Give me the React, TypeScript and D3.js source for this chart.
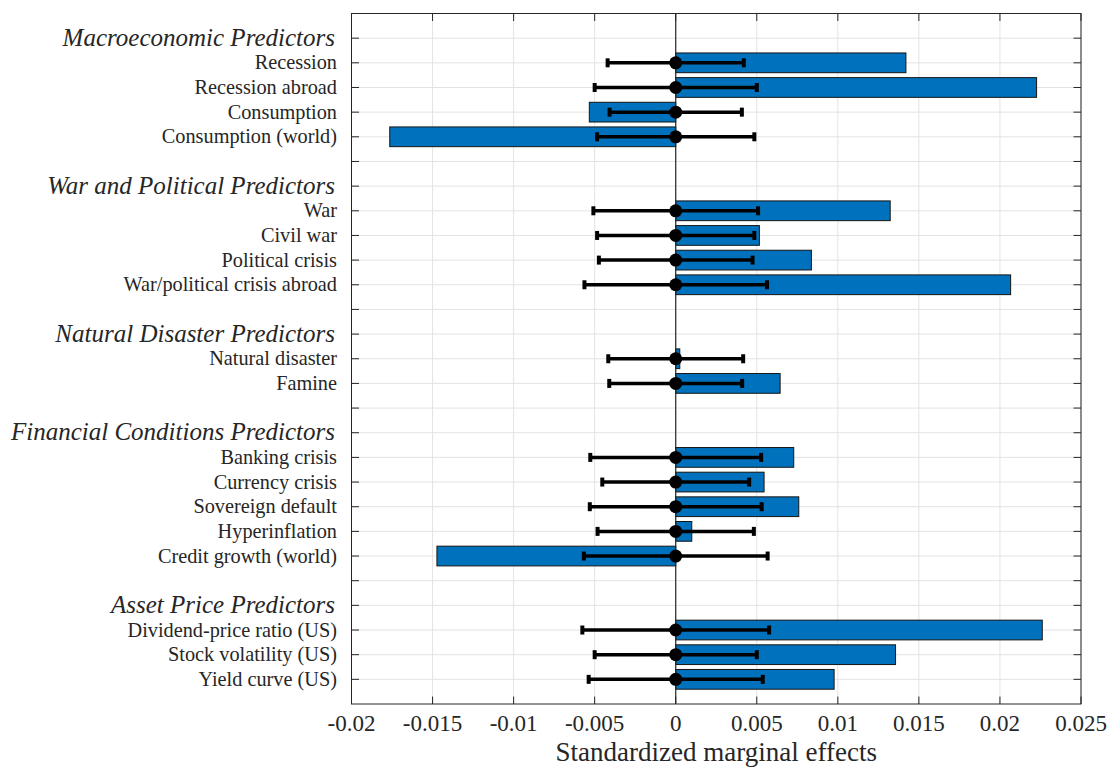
import React from "react";
import * as d3 from "d3";

// Predictor groups, in display order, with the number of predictors in each
const groupNames = [
  "Macroeconomic Predictors",
  "War and Political Predictors",
  "Natural Disaster Predictors",
  "Financial Conditions Predictors",
  "Asset Price Predictors",
];
const groupSizes = [4, 4, 2, 5, 3];

const predictors = [
  "Recession",
  "Recession abroad",
  "Consumption",
  "Consumption (world)",
  "War",
  "Civil war",
  "Political crisis",
  "War/political crisis abroad",
  "Natural disaster",
  "Famine",
  "Banking crisis",
  "Currency crisis",
  "Sovereign default",
  "Hyperinflation",
  "Credit growth (world)",
  "Dividend-price ratio (US)",
  "Stock volatility (US)",
  "Yield curve (US)",
];

// Standardized marginal effects (bars)
const effects = [
  0.0142, 0.02226, -0.00533, -0.01764,
  0.01323, 0.00516, 0.00837, 0.02066,
  0.00025, 0.00644,
  0.00728, 0.00545, 0.00759, 0.00099, -0.01473,
  0.02261, 0.01356, 0.00977,
];

// Error-bar centres and half-widths
const ciCenter = [0, 0, 0, 0, 0, 0, 0, 0, 0, 0, 0, 0, 0, 0, 0, 0, 0, 0];
const ciHalf = [
  0.0042, 0.005, 0.00408, 0.00485,
  0.00508, 0.00485, 0.00474, 0.00563,
  0.00416, 0.0041,
  0.00527, 0.00453, 0.0053, 0.00482, 0.00567,
  0.00576, 0.005, 0.00537,
];

const xTicks = [-0.02, -0.015, -0.01, -0.005, 0, 0.005, 0.01, 0.015, 0.02, 0.025];
const xTickLabels = ["-0.02", "-0.015", "-0.01", "-0.005", "0", "0.005", "0.01", "0.015", "0.02", "0.025"];
const xLabel = "Standardized marginal effects";

type Row = { label: string; header: boolean; idx: number | null };

// Build the row list: header, predictors, blank spacer between groups
const rows: Row[] = [];
{
  let k = 0;
  groupNames.forEach((g, gi) => {
    rows.push({ label: g, header: true, idx: null });
    for (let j = 0; j < groupSizes[gi]; j++) {
      rows.push({ label: predictors[k], header: false, idx: k });
      k++;
    }
    if (gi < groupNames.length - 1) rows.push({ label: "", header: false, idx: null });
  });
}

const W = 1110;
const H = 767;
const plot = { left: 351.5, right: 1081, top: 13.5, bottom: 704 };
const axisColor = "#262626";
const gridColor = "#e3e3e3";
const barColor = "#0072BD";
const serif = "'Liberation Serif', 'Times New Roman', serif";

export default function App() {
  const x = d3.scaleLinear().domain([-0.02, 0.025]).range([plot.left, plot.right]);
  const y = d3.scaleLinear().domain([0, rows.length + 1]).range([plot.top, plot.bottom]);
  const rowPos = rows.map((_, i) => i + 1);
  const bandH = (y(1) - y(0)) * 0.8;
  const tickLen = 7.5;
  const capH = 9;

  return (
    <svg
      width={W}
      height={H}
      style={{ position: "absolute", left: 0, top: 0, background: "#fff" }}
    >
      {/* grid */}
      <g stroke={gridColor} strokeWidth={1}>
        {xTicks.map((t, i) => (
          <line key={"gx" + i} x1={x(t)} x2={x(t)} y1={plot.top} y2={plot.bottom} />
        ))}
        {rowPos.map((r, i) => (
          <line key={"gy" + i} x1={plot.left} x2={plot.right} y1={y(r)} y2={y(r)} />
        ))}
      </g>

      {/* bars */}
      <g>
        {rows.map((row, i) => {
          if (row.idx === null) return null;
          const v = effects[row.idx];
          const x0 = Math.min(x(0), x(v));
          const w = Math.abs(x(v) - x(0));
          return (
            <rect
              key={"b" + i}
              x={x0}
              y={y(rowPos[i]) - bandH / 2}
              width={w}
              height={bandH}
              fill={barColor}
              stroke="#151515"
              strokeWidth={1}
            />
          );
        })}
      </g>

      {/* zero baseline */}
      <line x1={x(0)} x2={x(0)} y1={plot.top} y2={plot.bottom} stroke={axisColor} strokeWidth={1.2} />

      {/* error bars */}
      <g stroke="#000">
        {rows.map((row, i) => {
          if (row.idx === null) return null;
          const c = ciCenter[row.idx];
          const h = ciHalf[row.idx];
          const yy = y(rowPos[i]);
          return (
            <g key={"e" + i}>
              <line x1={x(c - h)} x2={x(c + h)} y1={yy} y2={yy} strokeWidth={3.5} />
              <line x1={x(c - h)} x2={x(c - h)} y1={yy - capH / 2} y2={yy + capH / 2} strokeWidth={4} />
              <line x1={x(c + h)} x2={x(c + h)} y1={yy - capH / 2} y2={yy + capH / 2} strokeWidth={4} />
            </g>
          );
        })}
      </g>
      <g fill="#000">
        {rows.map((row, i) =>
          row.idx === null ? null : (
            <circle key={"d" + i} cx={x(ciCenter[row.idx])} cy={y(rowPos[i])} r={6.5} />
          )
        )}
      </g>

      {/* axes box and ticks */}
      <rect
        x={plot.left}
        y={plot.top}
        width={plot.right - plot.left}
        height={plot.bottom - plot.top}
        fill="none"
        stroke={axisColor}
        strokeWidth={1}
      />
      <g stroke={axisColor} strokeWidth={1}>
        {xTicks.map((t, i) => (
          <g key={"tx" + i}>
            <line x1={x(t)} x2={x(t)} y1={plot.bottom} y2={plot.bottom - tickLen} />
            <line x1={x(t)} x2={x(t)} y1={plot.top} y2={plot.top + tickLen} />
          </g>
        ))}
        {rowPos.map((r, i) => (
          <g key={"ty" + i}>
            <line x1={plot.left} x2={plot.left + tickLen} y1={y(r)} y2={y(r)} />
            <line x1={plot.right} x2={plot.right - tickLen} y1={y(r)} y2={y(r)} />
          </g>
        ))}
      </g>

      {/* x tick labels */}
      <g fill={axisColor} fontFamily={serif} fontSize={23} textAnchor="middle">
        {xTicks.map((t, i) => (
          <text key={"xl" + i} x={x(t)} y={731}>
            {xTickLabels[i]}
          </text>
        ))}
      </g>
      <text
        x={(plot.left + plot.right) / 2}
        y={761}
        fill={axisColor}
        fontFamily={serif}
        fontSize={27}
        textAnchor="middle"
      >
        {xLabel}
      </text>

      {/* y labels */}
      <g fill={axisColor} fontFamily={serif} textAnchor="end">
        {rows.map((row, i) =>
          row.label === "" ? null : row.header ? (
            <text
              key={"yl" + i}
              x={335}
              y={y(rowPos[i]) + 7.5}
              fontSize={25}
              fontStyle="italic"
            >
              {row.label}
            </text>
          ) : (
            <text key={"yl" + i} x={337} y={y(rowPos[i]) + 6.5} fontSize={20.3}>
              {row.label}
            </text>
          )
        )}
      </g>
    </svg>
  );
}
